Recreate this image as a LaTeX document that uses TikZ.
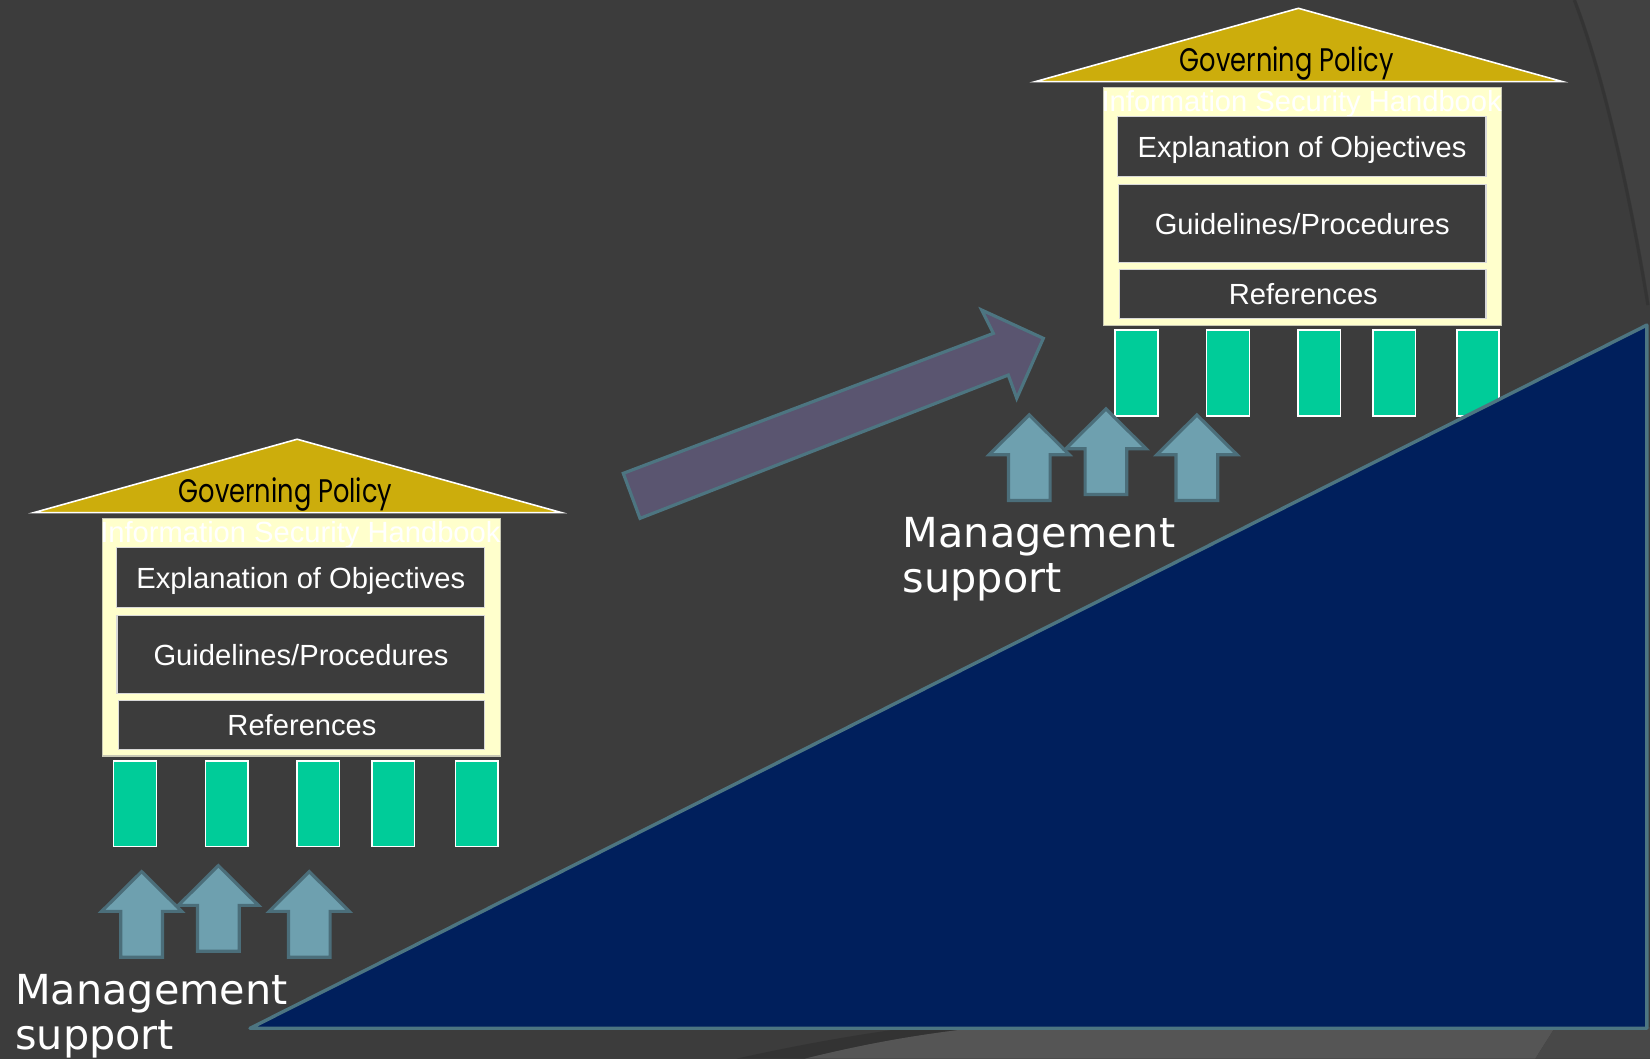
\documentclass[tikz,border=0pt]{standalone}
\usepackage{fontspec}
\usepackage{graphicx}
\setmainfont{Liberation Sans}
\newfontfamily\dejavu{DejaVu Sans}
\newfontfamily\popp{Poppins}
\definecolor{bg}{HTML}{3C3C3C}
\definecolor{roofc}{HTML}{CCAD0C}
\definecolor{hbc}{HTML}{FFFFCC}
\definecolor{hbline}{HTML}{C8C8B4}
\definecolor{layerline}{HTML}{D8D8D8}
\definecolor{pillarc}{HTML}{00CC99}
\definecolor{arrowc}{HTML}{6EA0AF}
\definecolor{arrowline}{HTML}{4B6E7A}
\definecolor{rampc}{HTML}{001F5C}
\definecolor{rampline}{HTML}{4D7581}
\definecolor{bigarrowc}{HTML}{5A5570}
\definecolor{declight}{HTML}{555555}
\definecolor{decright}{HTML}{484848}
\definecolor{decshadow}{HTML}{2C2C2C}
\definecolor{trc}{HTML}{414141}
\begin{document}
\begin{tikzpicture}[x=1pt,y=-1pt,
  roof/.style={fill=roofc, draw=white, line width=1.5pt, line join=miter},
  govtext/.style={anchor=base, inner sep=0pt, text=black, font=\popp\fontsize{31}{36}\selectfont},
  handbook/.style={fill=hbc, draw=hbline, line width=1pt},
  layer/.style={fill=bg, draw=layerline, line width=1.2pt},
  boxtext/.style={anchor=base, inner sep=0pt, text=white, font=\fontsize{27.7}{33}\selectfont},
  pillar/.style={fill=pillarc, draw=white, line width=1.5pt},
  uparrow/.style={fill=arrowc, draw=arrowline, line width=3pt, line join=miter},
  mgmt/.style={anchor=base west, inner sep=0pt, text=white, font=\dejavu\fontsize{39.3}{43}\selectfont},
  ramp/.style={fill=rampc, draw=rampline, line width=3.2pt, line join=round},
  bigarrow/.style={fill=bigarrowc, draw=rampline, line width=3pt, line join=miter},
  house/.pic={
    \draw[roof] (32.3,487.1) -- (282.4,417.4) -- (533.5,487.1) -- cycle;
    \node[govtext] (-gov) at (271.3,477.6) {\resizebox{203pt}{\height}{Governing Policy}};
    \draw[handbook] (97,492.4) rectangle (475.5,718.4);
    \node[boxtext] (-hb) at (285.5,515.5) {Information Security Handbook};
    \draw[layer] (110.6,520.4) rectangle (460.7,577.4);
    \node[boxtext] (-ex) at (285.9,559) {Explanation of Objectives};
    \draw[layer] (111.3,584.7) rectangle (460.7,658.8);
    \node[boxtext] (-gl) at (286,632.8) {Guidelines/Procedures};
    \draw[layer] (112.5,665.5) rectangle (460.7,712);
    \node[boxtext] (-rf) at (287,699.3) {References};
    \foreach \a/\b in {108/148.8, 195.2/235.7, 282.2/322.5, 353.5/393.8, 432.8/473}
      \draw[pillar] (\a,723) rectangle (\b,804.6);
  },
  support/.pic={
    \foreach \tx/\ty in {134.6/828.3, 207.5/822.6, 293.9/828.3}
      \draw[uparrow] (\tx,\ty) -- ++(38.1,37.8) -- ++(-18.3,0) -- ++(0,43.5) -- ++(-39.6,0) -- ++(0,-43.5) -- ++(-18.3,0) -- cycle;
    \node[mgmt] (-l1) at (14.3,954.5) {Management};
    \node[mgmt] (-l2) at (14.3,997.2) {support};
  }
]
\useasboundingbox (0,0) rectangle (1568,1006);
\fill[bg] (0,0) rectangle (1568,1006);
% theme decoration
\fill[trc] (1498,0) .. controls (1525,70) and (1550,180) .. (1568,290) -- (1568,0) -- cycle;
\draw[decshadow, line width=3pt, opacity=0.45] (1496,0) .. controls (1523,70) and (1548,180) .. (1566,290);
\fill[decshadow, opacity=0.55] (700,1006) .. controls (790,986) and (860,976) .. (935,968) -- (935,976) .. controls (880,982) and (830,990) .. (765,1006) -- cycle;
\fill[declight] (765,1006) .. controls (830,990) and (880,982) .. (935,976) -- (1478,976) -- (1459,1006) -- cycle;
\fill[decright] (1459,1006) -- (1478,976) -- (1568,976) -- (1568,1006) -- cycle;
% houses
\pic (L) at (0,0) {house};
\pic (R) at (951.5,-409.5) {house};
% ramp
\draw[ramp] (237.6,977.2) -- (1565,308.9) -- (1565,977.2) -- cycle;
% big arrow
\draw[bigarrow] (592.3,449.8) -- (944,316.8) -- (932.9,294.6) -- (991.5,321.5) -- (966.2,378.5) -- (958.2,356.4) -- (608.2,492.6) -- cycle;
% management support
\pic (SL) at (0,0) {support};
\pic (SR) at (843.5,-434) {support};
\end{tikzpicture}
\end{document}
